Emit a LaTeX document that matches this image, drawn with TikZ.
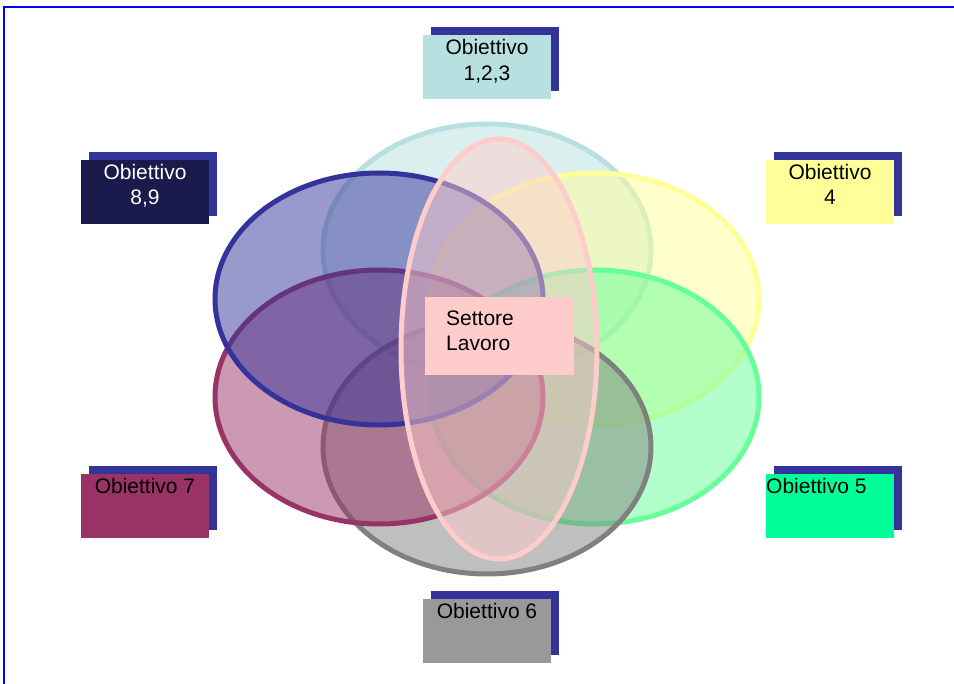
\documentclass[tikz,border=0pt]{standalone}
\usepackage{fontspec}
\setmainfont{Liberation Sans}
\definecolor{shadowblue}{HTML}{333399}
\definecolor{cyanE}{HTML}{B8E0E0}
\definecolor{yellowE}{HTML}{FFFF99}
\definecolor{greenE}{HTML}{66FF99}
\definecolor{greyE}{HTML}{808080}
\definecolor{maroonE}{HTML}{993366}
\definecolor{blueE}{HTML}{333399}
\definecolor{pinkE}{HTML}{FFCCCC}
\definecolor{navyB}{HTML}{1A1A4D}
\definecolor{greenB}{HTML}{00FF99}
\definecolor{greyB}{HTML}{999999}
\begin{document}
\begin{tikzpicture}[x=1pt,y=-1pt,
  shadowbox/.style={fill=shadowblue, draw=none, minimum width=128pt, minimum height=64pt, inner sep=0pt, anchor=north west},
  frontbox/.style={draw=none, minimum width=128pt, minimum height=64pt, inner sep=0pt, anchor=north west},
  lbl/.style={font=\fontsize{21}{25}\selectfont, inner sep=0pt, anchor=base},
  venn/.style={line width=5pt, fill opacity=0.5}]
\useasboundingbox (0,0) rectangle (954,684);
\clip (0,0) rectangle (954,684);
\draw[blue, line width=2pt] (3.5,7.5) rectangle (980,700);
% ellipses
\draw[venn, draw=cyanE, fill=cyanE] (487,250) ellipse [x radius=164pt, y radius=126pt];
\draw[venn, draw=yellowE, fill=yellowE] (595,299) ellipse [x radius=164pt, y radius=126pt];
\draw[venn, draw=greenE, fill=greenE] (595,397) ellipse [x radius=164pt, y radius=127pt];
\draw[venn, draw=greyE, fill=greyE] (487,447) ellipse [x radius=164pt, y radius=127pt];
\draw[venn, draw=maroonE, fill=maroonE] (379,397) ellipse [x radius=164pt, y radius=127pt];
\draw[venn, draw=blueE, fill=blueE] (379,299) ellipse [x radius=164pt, y radius=126pt];
\draw[venn, draw=pinkE, fill=pinkE] (499,349) ellipse [x radius=98pt, y radius=210pt];
% boxes
\node[shadowbox] (s1) at (431,27) {};
\node[frontbox, fill=cyanE] (b1) at (423,35) {};
\node[shadowbox] (s89) at (89,152) {};
\node[frontbox, fill=navyB] (b89) at (81,160) {};
\node[shadowbox] (s4) at (774,152) {};
\node[frontbox, fill=yellowE] (b4) at (766,160) {};
\node[shadowbox] (s7) at (89,466) {};
\node[frontbox, fill=maroonE] (b7) at (81,474) {};
\node[shadowbox] (s5) at (774,466) {};
\node[frontbox, fill=greenB] (b5) at (766,474) {};
\node[shadowbox] (s6) at (431,591) {};
\node[frontbox, fill=greyB] (b6) at (423,599) {};
\node[draw=none, fill=pinkE, minimum width=149pt, minimum height=78pt, inner sep=0pt, anchor=north west] (bs) at (425,297) {};
% texts
\node[lbl] (t1a) at (487,55) {Obiettivo};
\node[lbl] (t1b) at (487,81) {1,2,3};
\node[lbl, white] (t89a) at (145,180) {Obiettivo};
\node[lbl, white] (t89b) at (145,205) {8,9};
\node[lbl] (t4a) at (830,180) {Obiettivo};
\node[lbl] (t4b) at (830,205) {4};
\node[lbl] (t7) at (145,494) {Obiettivo 7};
\node[lbl, anchor=base west] (t5) at (766,494) {Obiettivo 5};
\node[lbl] (t6) at (487,619) {Obiettivo 6};
\node[lbl, anchor=base west] (tsa) at (446,326) {Settore};
\node[lbl, anchor=base west] (tsb) at (446,351) {Lavoro};
\end{tikzpicture}
\end{document}
